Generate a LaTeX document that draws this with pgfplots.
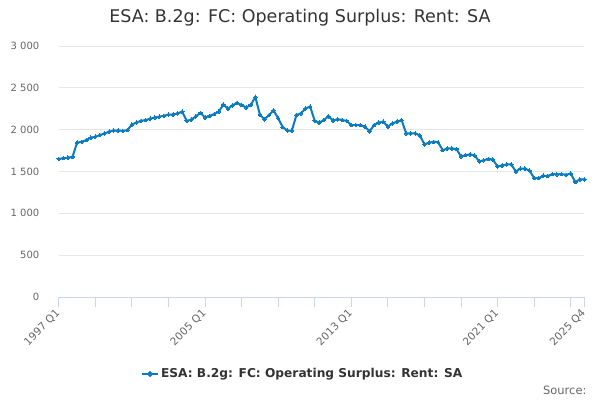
\documentclass[border=0pt]{standalone}
\usepackage{fontspec}
\setmainfont{DejaVu Sans}
\usepackage{pgfplots}
\pgfplotsset{compat=1.18}
\usepackage{pgfplotstable}
\definecolor{linec}{RGB}{12,124,192}
\definecolor{axisc}{RGB}{204,214,235}
\definecolor{gridc}{RGB}{230,230,230}
\definecolor{labc}{RGB}{102,102,102}
\definecolor{titc}{RGB}{51,51,51}
\pgfplotstableread{
i v
0 1650
1 1660
2 1665
3 1675
4 1845
5 1855
6 1875
7 1905
8 1915
9 1935
10 1955
11 1975
12 1990
13 1990
14 1985
15 1995
16 2060
17 2085
18 2105
19 2115
20 2130
21 2145
22 2155
23 2165
24 2180
25 2180
26 2195
27 2215
28 2105
29 2120
30 2160
31 2200
32 2145
33 2165
34 2185
35 2215
36 2300
37 2250
38 2290
39 2320
40 2295
41 2265
42 2295
43 2390
44 2180
45 2125
46 2175
47 2230
48 2135
49 2030
50 1990
51 1990
52 2175
53 2195
54 2255
55 2275
56 2105
57 2085
58 2115
59 2160
60 2110
61 2125
62 2115
63 2105
64 2055
65 2055
66 2055
67 2035
68 1980
69 2055
70 2085
71 2095
72 2035
73 2075
74 2095
75 2115
76 1955
77 1955
78 1955
79 1930
80 1825
81 1845
82 1855
83 1850
84 1755
85 1775
86 1775
87 1770
88 1680
89 1695
90 1705
91 1690
92 1620
93 1635
94 1650
95 1640
96 1560
97 1570
98 1585
99 1585
100 1500
101 1535
102 1535
103 1510
104 1420
105 1420
106 1450
107 1445
108 1470
109 1465
110 1470
111 1460
112 1475
113 1375
114 1405
115 1405
}\datatable
\begin{document}
\begin{tikzpicture}[x=1pt,y=1pt]
\useasboundingbox (0,0) rectangle (600,400);
\node[text=titc,font=\fontsize{17.5}{20}\selectfont] at (300,382) {ESA: B.2g: FC: Operating Surplus: Rent: SA};
\node[text=labc,font=\fontsize{11.5}{13}\selectfont,anchor=east] at (590,10) {Source:};
\begin{axis}[
  at={(58.8pt,103pt)}, anchor=south west,
  scale only axis, width=525.6pt, height=251pt,
  xmin=0, xmax=115, ymin=0, ymax=3000,
  clip=false,
  axis lines*=left,
  axis line style={-},
  y axis line style={draw=none},
  x axis line style={color=axisc, line width=1pt},
  ytick={0,500,...,3000},
  ytick style={draw=none},
  xtick={0,8,...,112,115},
  xticklabels={1997 Q1,,,,2005 Q1,,,,2013 Q1,,,,2021 Q1,,,2025 Q4},
  xtick style={color=axisc, line width=1pt},
  tick align=outside,
  major tick length=10pt,
  ymajorgrids,
  grid style={color=gridc, line width=0.8pt},
  /pgf/number format/assume math mode=true,
  /pgf/number format/1000 sep={\ },
  yticklabel style={text=labc, font=\fontsize{10}{12}\selectfont, xshift=-6pt},
  xticklabel style={text=labc, font=\fontsize{10.5}{12}\selectfont, xshift=-4pt, yshift=0pt, rotate=45, anchor=north east, inner sep=1pt},
  legend style={at={(0.464,-0.307)}, anchor=center, draw=none, fill=none,
    font=\fontsize{12.2}{14}\selectfont\bfseries, text=titc,
    legend cell align=left},
  legend image code/.code={\draw[#1, line width=2pt] (0pt,0pt) -- (16pt,0pt); \fill[linec] (8pt,0pt) circle (1.8pt);},
]
\addplot[color=linec, line width=2pt, mark=*, mark size=1.8pt, mark options={fill=linec, draw=linec, line width=0pt}] table[x=i, y=v] {\datatable};
\addlegendentry{ESA: B.2g: FC: Operating Surplus: Rent: SA}
\end{axis}
\end{tikzpicture}
\end{document}
